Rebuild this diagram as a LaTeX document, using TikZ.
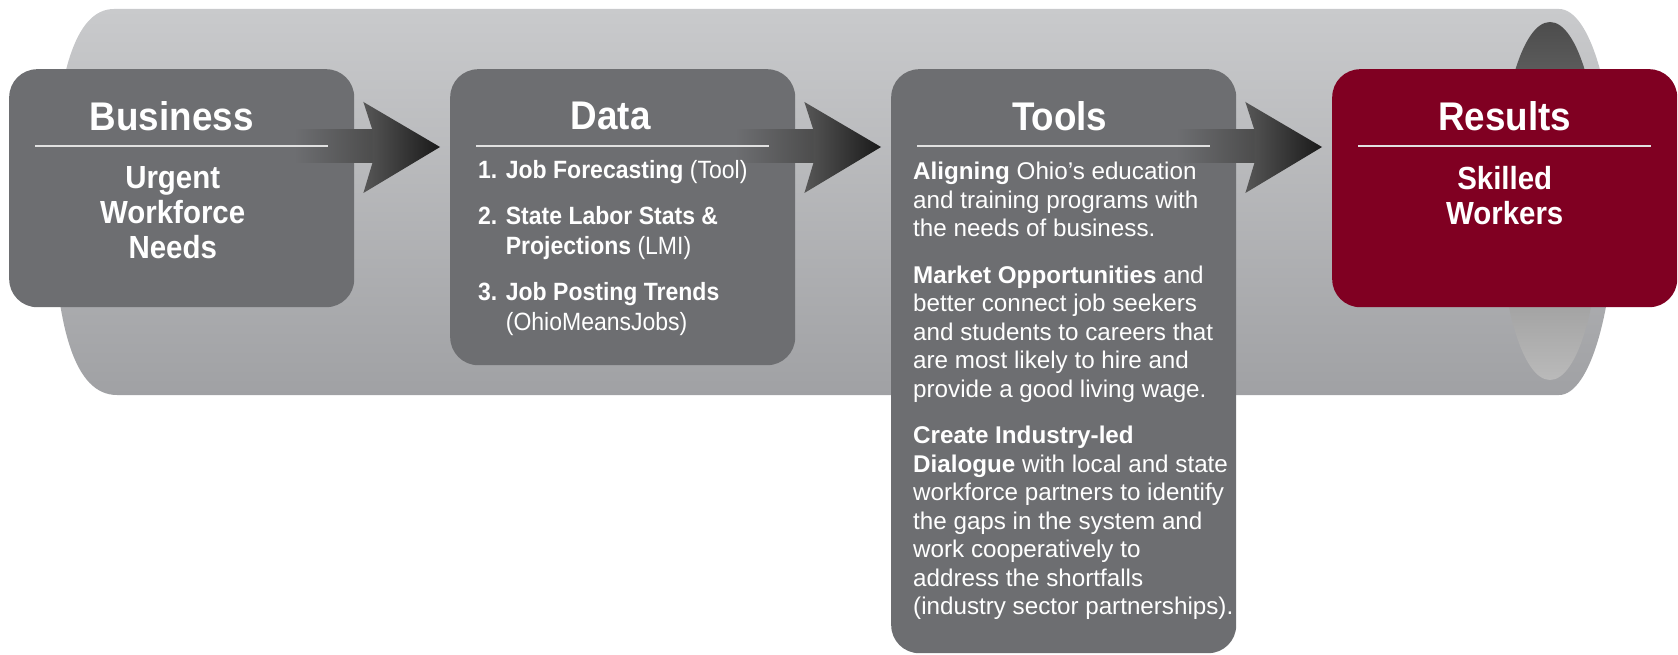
\documentclass[tikz,border=0pt]{standalone}
\usepackage{fontspec}
\setmainfont{Liberation Sans}
\newfontfamily\condfont[FakeStretch=0.92]{Liberation Sans}
\usetikzlibrary{calc,positioning,shapes}
\definecolor{boxgray}{RGB}{109,110,113}
\definecolor{resultred}{RGB}{128,0,34}
\definecolor{pipetop}{RGB}{201,202,204}
\definecolor{pipebottom}{RGB}{160,161,164}
\definecolor{rulegray}{RGB}{225,225,225}
\tikzset{
  stagebox/.style={
    rectangle,
    rounded corners=28pt,
    fill=boxgray,
    minimum width=345pt,
    anchor=north west,
    inner sep=0pt},
  resultbox/.style={stagebox, fill=resultred},
  headtext/.style={text=white, inner sep=0pt,
    font=\condfont\bfseries\fontsize{40}{40}\selectfont},
  bodytext/.style={text=white, align=center, inner sep=0pt, anchor=north,
    font=\condfont\bfseries\fontsize{32}{35}\selectfont},
  itemtext/.style={text=white, align=left, inner sep=0pt, anchor=north west,
    font=\condfont\fontsize{25}{30}\selectfont},
  tooltext/.style={text=white, align=left, inner sep=0pt, anchor=north west,
    font=\fontsize{24.2}{28.5}\selectfont},
  headrule/.style={draw=rulegray, line width=2pt},
}
% shaded arrow from one stage to the next
\newcommand{\stagearrow}[2]{%
  \shade[left color=boxgray, right color=black!70]
    ($(#1.north east)+(-60,61)$) rectangle ($(#1.north east)+(19,94)$);
  \shade[left color=black!66, right color=black!90]
    ($(#1.north east)+(9,33)$) -- ($(#2.north west)+(-10,78)$)
    -- ($(#1.north east)+(9,124)$) -- ($(#1.north east)+(18,94)$)
    -- ($(#1.north east)+(18,61)$) -- cycle;
}
\begin{document}
\begin{tikzpicture}[x=1pt, y=-1pt]
    \useasboundingbox (0,0) rectangle (1678,655);
    % pipe
    \shade[top color=pipetop, bottom color=pipebottom]
        (114,9) -- (1559,9) .. controls (1590,9) and (1615,94) .. (1615,201)
        .. controls (1615,308) and (1590,395) .. (1559,395)
        -- (117,395) .. controls (75,395) and (55,330) .. (52,201)
        .. controls (55,75) and (75,9) .. cycle;
    \shade[top color=black!70, bottom color=black!27]
        (1550,201) ellipse [x radius=51, y radius=179];

    \node[stagebox, minimum height=238pt] (business) at (9,69) {};
    \node[stagebox, minimum height=296pt] (data) at (450,69) {};
    \node[stagebox, minimum height=584pt] (tools) at (891,69) {};
    \node[resultbox, minimum height=238pt] (results) at (1332,69) {};

    \stagearrow{business}{data}
    \stagearrow{data}{tools}
    \stagearrow{tools}{results}

    \foreach \s in {business,data,tools,results}
        \draw[headrule] ($(\s.north west)+(26,77)$) -- ($(\s.north east)+(-26,77)$);

    \node[headtext] (business-title) at ($(business.north)+(-10,47)$) {Business};
    \node[headtext] (data-title) at ($(data.north)+(-12,47)$) {Data};
    \node[headtext] (tools-title) at ($(tools.north)+(-4,47)$) {Tools};
    \node[headtext] (results-title) at ($(results.north)+(0,47)$) {Results};

    \node[bodytext] (business-text) at ($(business.north)+(-9,97)$)
        {Urgent\\Workforce\\Needs};
    \node[bodytext] (results-text) at ($(results.north)+(0,97)$)
        {Skilled\\Workers};

    \node[itemtext] (data-text) at ($(data.north west)+(28,91)$)
        {\textbf{1. Job Forecasting} (Tool)\\[16pt]
         \textbf{2. State Labor Stats \&}\\
         \hphantom{\textbf{2. }}\textbf{Projections} (LMI)\\[16pt]
         \textbf{3. Job Posting Trends}\\
         \hphantom{\textbf{3. }}(OhioMeansJobs)};

    \node[tooltext] (tools-text) at ($(tools.north west)+(22,93)$)
        {\textbf{Aligning} Ohio's education\\
         and training programs with\\
         the needs of business.\\[18pt]
         \textbf{Market Opportunities} and\\
         better connect job seekers\\
         and students to careers that\\
         are most likely to hire and\\
         provide a good living wage.\\[18pt]
         \textbf{Create Industry-led}\\
         \textbf{Dialogue} with local and state\\
         workforce partners to identify\\
         the gaps in the system and\\
         work cooperatively to\\
         address the shortfalls\\
         (industry sector partnerships).};
\end{tikzpicture}
\end{document}
